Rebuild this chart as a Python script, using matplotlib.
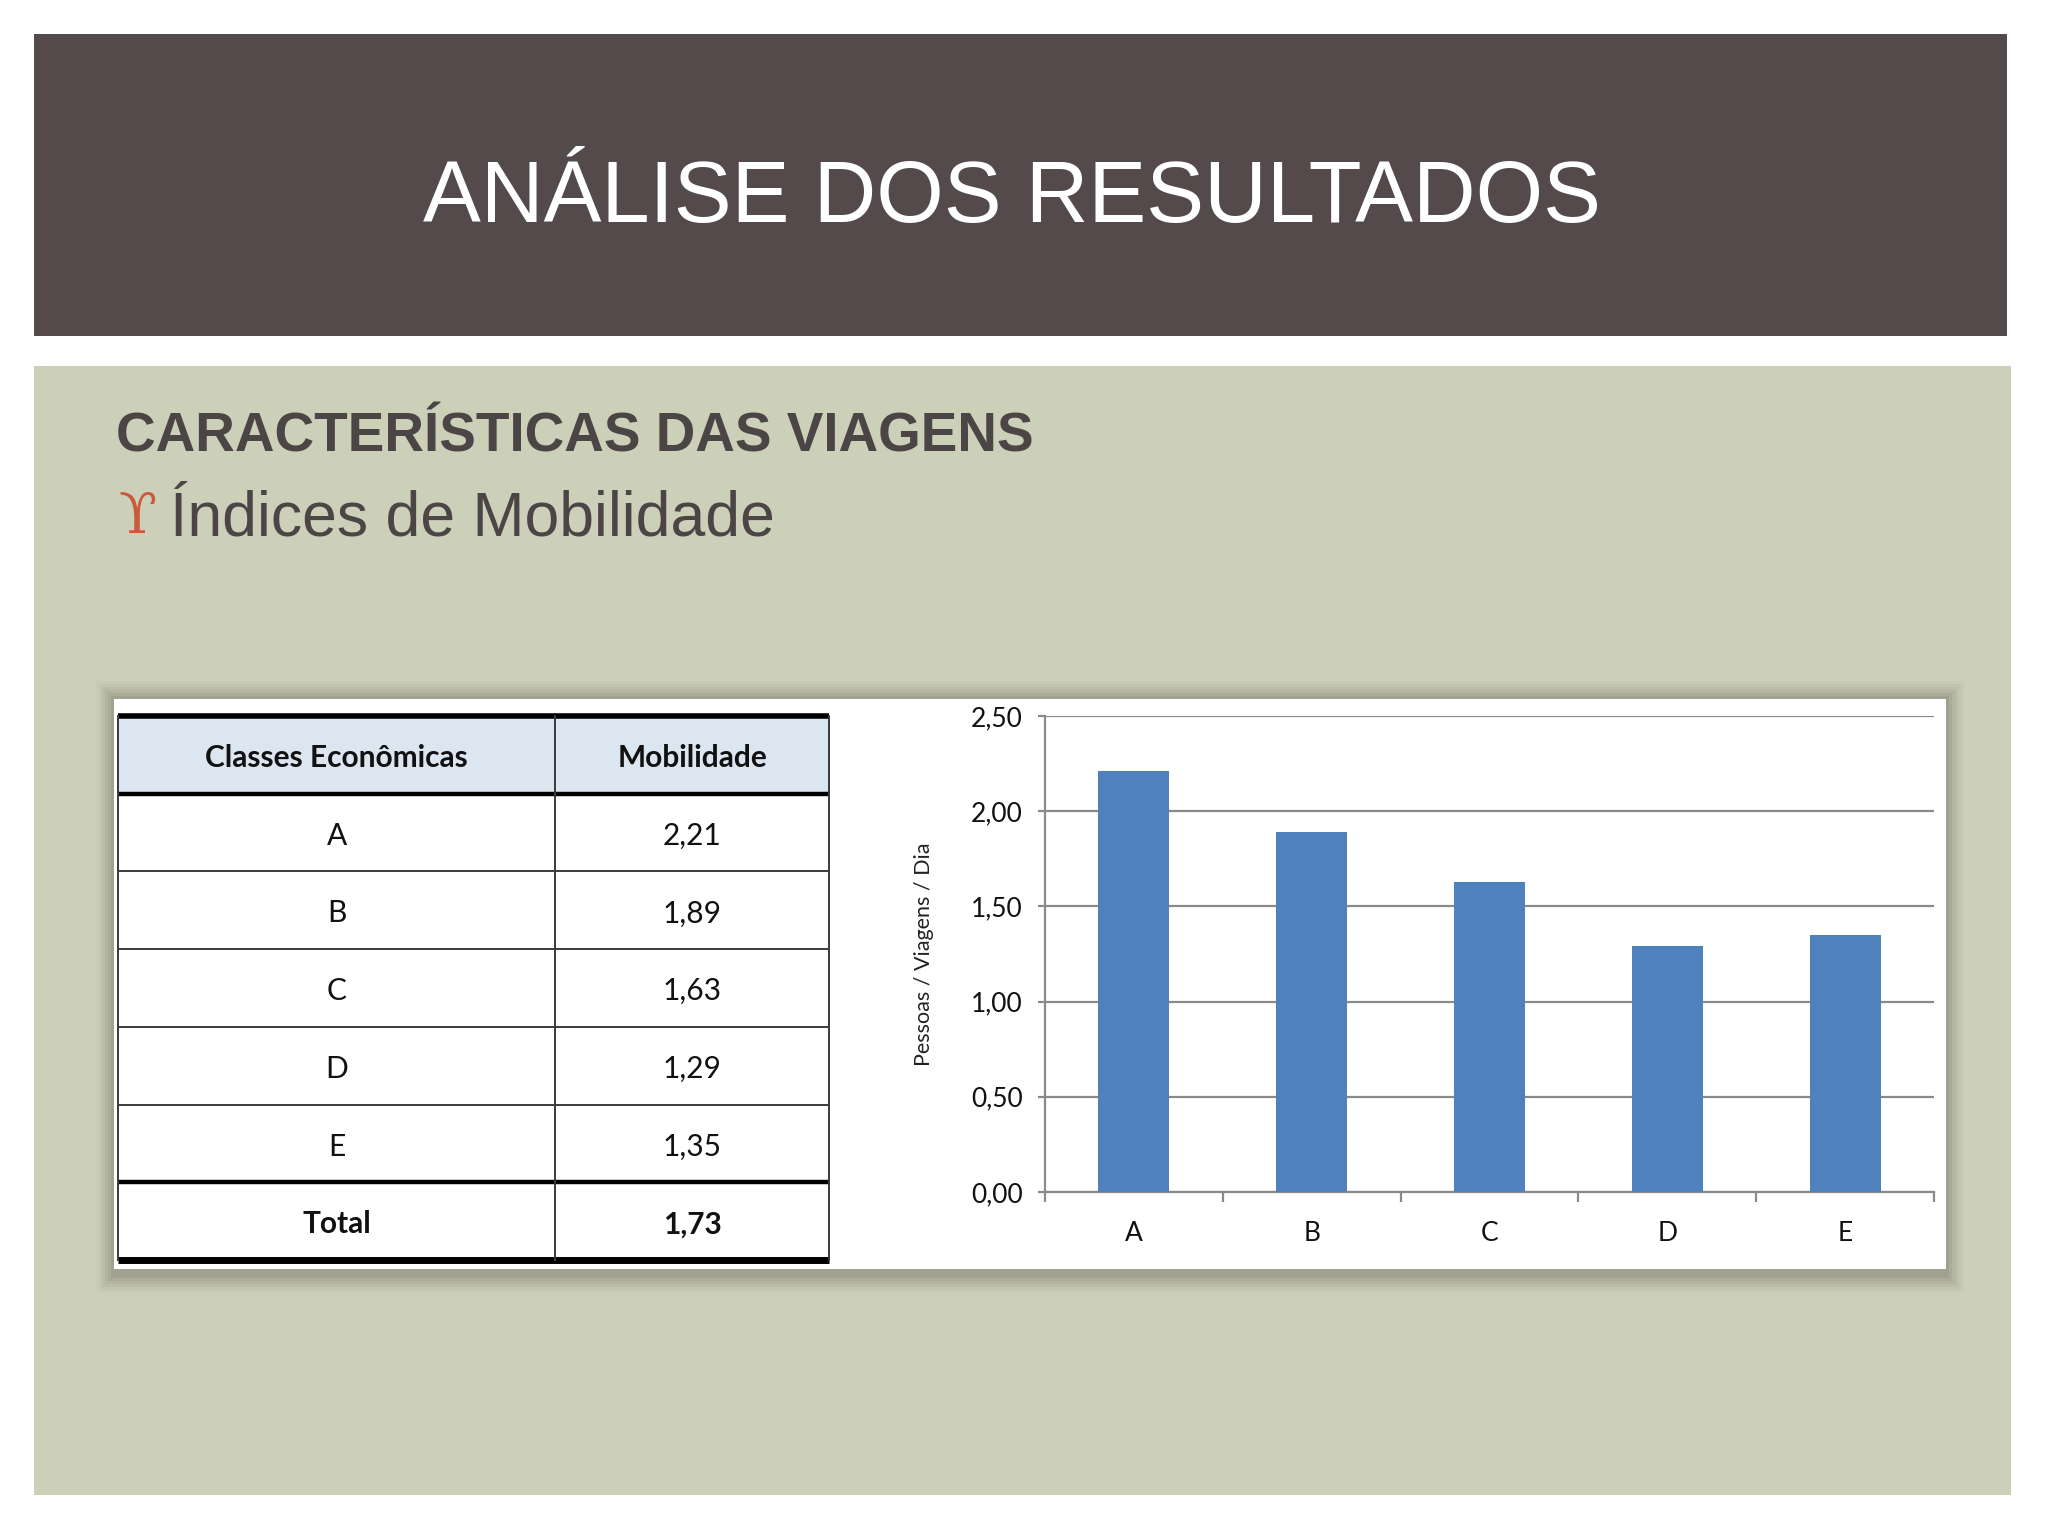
import matplotlib
matplotlib.use("Agg")
import matplotlib.pyplot as plt
from matplotlib.patches import Rectangle
from matplotlib.ticker import FuncFormatter, FixedLocator

W, H = 2048, 1536

titulo = "ANÁLISE DOS RESULTADOS"
secao = "CARACTERÍSTICAS DAS VIAGENS"
topico = "Índices de Mobilidade"
cabecalho = ["Classes Econômicas", "Mobilidade"]
classes = ["A", "B", "C", "D", "E"]
mobilidade = [2.21, 1.89, 1.63, 1.29, 1.35]
rotulo_total = "Total"
total = 1.73
y_label = "Pessoas / Viagens / Dia"
y_ticks = [0.0, 0.5, 1.0, 1.5, 2.0, 2.5]

def virgula(v, pos=None):
    return f"{v:.2f}".replace(".", ",")

def rect_px(x0, y0, x1, y1):
    return [x0 / W, 1 - y1 / H, (x1 - x0) / W, (y1 - y0) / H]

def caixa(x0, y0, x1, y1, **kw):
    fig.add_artist(Rectangle((x0 / W, 1 - y1 / H), (x1 - x0) / W, (y1 - y0) / H,
                             transform=fig.transFigure, zorder=-5, **kw))

fig = plt.figure(figsize=(W / 100, H / 100), dpi=100, facecolor="white")

# fundo do slide
caixa(34, 34, 2007, 336, facecolor="#544A4B", edgecolor="none")
caixa(34, 366, 2011, 1495, facecolor="#CDD0B9", edgecolor="none")

fig.text(1012 / W, 1 - 222 / H, titulo, color="white", fontsize=62.5,
         family="Liberation Sans", ha="center", va="baseline")
fig.text(116 / W, 1 - 452 / H, secao, color="#4B4545", fontsize=39.5,
         family="Liberation Sans", weight="bold", ha="left", va="baseline")
fig.text(118 / W, 1 - 533 / H, "ϒ", color="#C95A3B", fontsize=40,
         family="DejaVu Serif", ha="left", va="baseline")
fig.text(170 / W, 1 - 535 / H, topico, color="#4B4545", fontsize=45,
         family="Liberation Sans", ha="left", va="baseline")

# sombra + caixa branca
for k, a in enumerate([0.05, 0.07, 0.10, 0.13, 0.17, 0.22]):
    d = 18 - 3 * k
    caixa(114 - d, 699 - d, 1946 + d, 1269 + d + 6, facecolor="#7E806F",
          edgecolor="none", alpha=a)
caixa(114, 699, 1946, 1269, facecolor="white", edgecolor="none")

# tabela
tab = fig.add_axes(rect_px(118, 716, 829, 1260))
tab.set_xlim(0, 1)
tab.set_ylim(7, 0)
tab.axis("off")
col = 0.615
tab.add_patch(Rectangle((0, 0), 1, 1, facecolor="#DCE6F1", edgecolor="none"))
valores = [virgula(v) for v in mobilidade]
fonte_tab = "Lato"
dy = 0.04
tab.text(col / 2, 0.5 + dy, cabecalho[0], ha="center", va="center", fontsize=21.5,
         weight="bold", family=fonte_tab, color="#111111")
tab.text((col + 1) / 2, 0.5 + dy, cabecalho[1], ha="center", va="center", fontsize=21.5,
         weight="bold", family=fonte_tab, color="#111111")
for i, (c, v) in enumerate(zip(classes, valores)):
    tab.text(col / 2, i + 1.5 + dy, c, ha="center", va="center", fontsize=21.5,
             family=fonte_tab, color="#111111")
    tab.text((col + 1) / 2, i + 1.5 + dy, v, ha="center", va="center", fontsize=21.5,
             family=fonte_tab, color="#111111")
tab.text(col / 2, 6.5 + dy, rotulo_total, ha="center", va="center", fontsize=21.5,
         weight="bold", family=fonte_tab, color="#111111")
tab.text((col + 1) / 2, 6.5 + dy, virgula(total), ha="center", va="center", fontsize=21.5,
         weight="bold", family=fonte_tab, color="#111111")
for y, lw in [(0, 4), (1, 3.2), (2, 1.4), (3, 1.4), (4, 1.4), (5, 1.4), (6, 3.2), (7, 5)]:
    tab.plot([0, 1], [y, y], color="black" if lw > 2 else "#3A3A3A", lw=lw,
             solid_capstyle="butt", clip_on=False)
for x in [0, col, 1]:
    tab.plot([x, x], [0, 7], color="#3A3A3A", lw=1.4, clip_on=False)

# grafico de barras
ax = fig.add_axes(rect_px(1045, 716, 1934, 1192))
ax.set_facecolor("white")
pos = list(range(len(classes)))
ax.bar(pos, mobilidade, width=0.4, color="#4F81BD", zorder=3)
ax.set_xlim(-0.5, len(classes) - 0.5)
ax.set_ylim(0, 2.5)
ax.set_yticks(y_ticks)
ax.yaxis.set_major_formatter(FuncFormatter(virgula))
ax.set_xticks(pos)
ax.set_xticklabels(classes)
ax.xaxis.set_minor_locator(FixedLocator([p - 0.5 for p in pos] + [pos[-1] + 0.5]))
ax.grid(axis="y", color="#8A8A8A", lw=1.6, zorder=0)
for s in ["top", "right"]:
    ax.spines[s].set_visible(False)
for s in ["left", "bottom"]:
    ax.spines[s].set_color("#8A8A8A")
    ax.spines[s].set_linewidth(1.6)
ax.tick_params(axis="y", length=5, width=1.6, color="#8A8A8A", labelsize=19,
               pad=11, labelcolor="#111111")
ax.tick_params(axis="x", which="major", length=0, labelsize=19, pad=21,
               labelcolor="#111111")
ax.tick_params(axis="x", which="minor", length=7, width=1.6, color="#8A8A8A")
for t in ax.get_xticklabels() + ax.get_yticklabels():
    t.set_family("Lato")
ax.set_ylabel(y_label, fontsize=15.5, family="Lato", color="#222222")
ax.yaxis.set_label_coords(-(1045 - 934) / (1934 - 1045), 0.5)

fig.savefig("out.png", dpi=100, facecolor="white")
